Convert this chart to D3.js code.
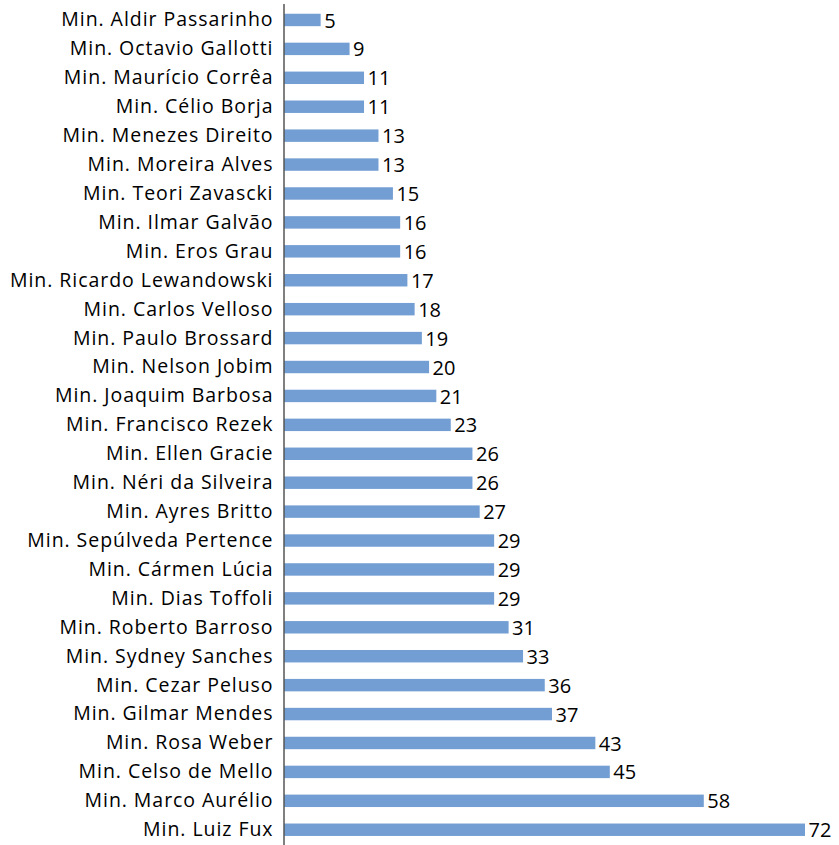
<!DOCTYPE html>
<html><head><meta charset="utf-8">
<script src="https://cdn.jsdelivr.net/npm/d3@7"></script>
<style>body{margin:0;background:#fff}</style>
</head><body>
<svg id="c" width="839" height="845"></svg>
<script>
const categories = ["Min. Aldir Passarinho","Min. Octavio Gallotti","Min. Maurício Corrêa","Min. Célio Borja","Min. Menezes Direito","Min. Moreira Alves","Min. Teori Zavascki","Min. Ilmar Galvão","Min. Eros Grau","Min. Ricardo Lewandowski","Min. Carlos Velloso","Min. Paulo Brossard","Min. Nelson Jobim","Min. Joaquim Barbosa","Min. Francisco Rezek","Min. Ellen Gracie","Min. Néri da Silveira","Min. Ayres Britto","Min. Sepúlveda Pertence","Min. Cármen Lúcia","Min. Dias Toffoli","Min. Roberto Barroso","Min. Sydney Sanches","Min. Cezar Peluso","Min. Gilmar Mendes","Min. Rosa Weber","Min. Celso de Mello","Min. Marco Aurélio","Min. Luiz Fux"];
const values = [5,9,11,11,13,13,15,16,16,17,18,19,20,21,23,26,26,27,29,29,29,31,33,36,37,43,45,58,72];

const svg = d3.select("#c");
const x0 = 284.5;
const x = d3.scaleLinear().domain([0,72]).range([x0, 805]);
const y = d3.scaleBand().domain(categories).range([5.5, 844.2]).paddingInner(0.57).paddingOuter(0.285);
const font = "'Open Sans', sans-serif";

svg.append("g").selectAll("rect").data(values).join("rect")
  .attr("x", x0)
  .attr("y", (d,i)=>y(categories[i]))
  .attr("width", d=>x(d)-x0)
  .attr("height", y.bandwidth())
  .attr("fill", "#739ED3");

const yAxis = d3.axisLeft(y).tickSize(0).tickPadding(11);
const g = svg.append("g").attr("transform",`translate(${x0},0)`).call(yAxis);
g.select(".domain").attr("stroke","#000").attr("stroke-width",1).attr("d","M-0.5,4V845");
g.selectAll("text").attr("font-family",font).attr("font-size","19.5px").attr("letter-spacing","0.95px")
  .attr("fill","#000").attr("dy","0.33em");

svg.append("g").selectAll("text").data(values).join("text")
  .attr("x", d=>x(d)+3.5)
  .attr("y", (d,i)=>y(categories[i])+y.bandwidth()/2)
  .attr("dy","0.38em")
  .attr("font-family",font).attr("font-size","20px").attr("fill","#000")
  .text(d=>d);
</script>
</body></html>
